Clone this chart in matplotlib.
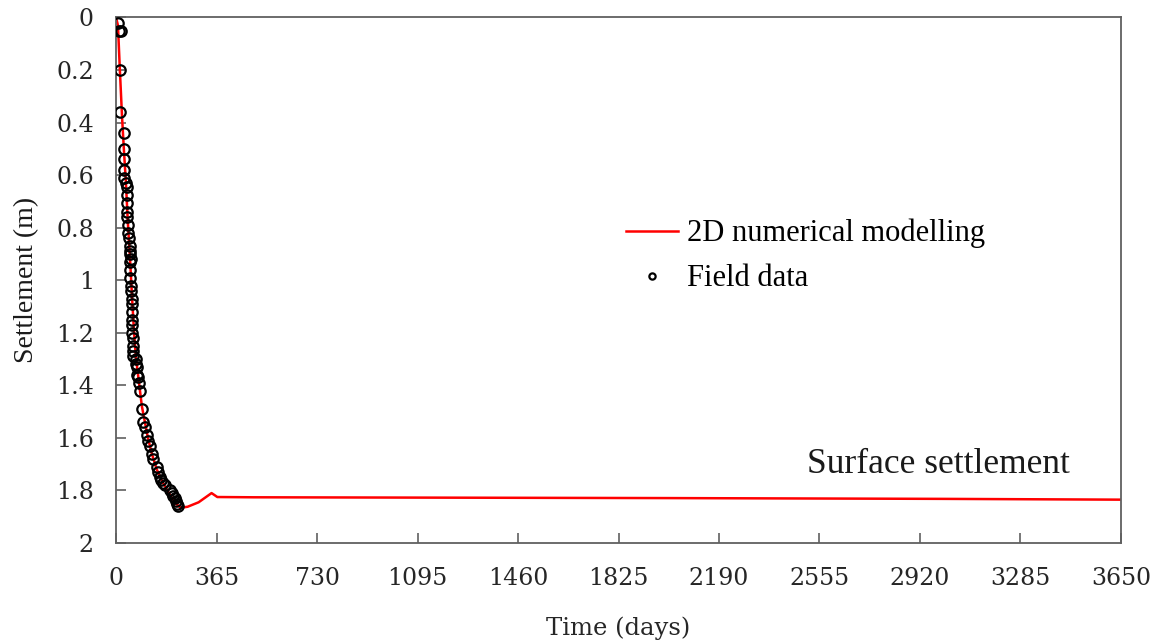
import numpy as np
import matplotlib.pyplot as plt
from matplotlib.ticker import FuncFormatter

# Field data (days, settlement in m)
field_days = [7, 11, 18, 14, 14, 29, 29, 29, 29, 29, 36, 40, 40, 40, 40, 40,
              43, 45, 47, 49, 51, 54, 51, 51, 51, 52, 53, 54, 58, 58, 58, 58,
              58, 58, 61, 61, 62, 63, 72, 74, 76, 78, 80, 84, 87, 94, 98, 105,
              112, 116, 123, 130, 134, 148, 152, 159, 165, 170, 177, 195, 202,
              206, 213, 217, 220, 224]
field_settle = [0.02, 0.05, 0.05, 0.20, 0.36, 0.44, 0.50, 0.54, 0.58, 0.61,
                0.63, 0.645, 0.675, 0.705, 0.74, 0.76, 0.79, 0.82, 0.84, 0.87,
                0.89, 0.92, 0.90, 0.93, 0.96, 0.99, 1.02, 1.04, 1.07, 1.09,
                1.12, 1.15, 1.17, 1.20, 1.22, 1.25, 1.27, 1.29, 1.30, 1.32,
                1.33, 1.36, 1.37, 1.39, 1.42, 1.49, 1.54, 1.56, 1.59, 1.61,
                1.63, 1.66, 1.68, 1.71, 1.73, 1.75, 1.76, 1.77, 1.78, 1.80,
                1.81, 1.82, 1.83, 1.84, 1.85, 1.86]

# 2D numerical model curve
model_days = [0, 7, 14, 22, 29, 36, 43, 51, 58, 65, 72, 80, 87, 94, 105, 116,
              130, 148, 170, 195, 217, 235, 260, 300, 347, 368, 500, 1000,
              2000, 3000, 3650]
model_settle = [0.0, 0.03, 0.2, 0.38, 0.51, 0.63, 0.78, 0.92, 1.06, 1.19, 1.29,
                1.36, 1.42, 1.48, 1.54, 1.60, 1.66, 1.72, 1.77, 1.815, 1.85,
                1.866, 1.862, 1.845, 1.81, 1.825, 1.826, 1.827, 1.829, 1.832,
                1.835]

x_ticks = [0, 365, 730, 1095, 1460, 1825, 2190, 2555, 2920, 3285, 3650]
y_ticks = [0, 0.2, 0.4, 0.6, 0.8, 1.0, 1.2, 1.4, 1.6, 1.8, 2.0]

serif = ["Liberation Serif", "DejaVu Serif"]
tick_font = "DejaVu Serif"

fig = plt.figure(figsize=(11.59, 6.43), dpi=100)
ax = fig.add_axes([0.1001, 0.1555, 0.8671, 0.8173])

ax.plot(model_days, model_settle, color="red", lw=1.8,
        label="2D numerical modelling", zorder=2)
ax.plot(field_days, field_settle, ls="none", marker="o", ms=7.5,
        mfc="none", mec="black", mew=1.6, label="Field data", zorder=3)

ax.set_xlim(0, 3650)
ax.set_ylim(2, 0)
ax.set_xticks(x_ticks)
ax.set_yticks(y_ticks)
ax.yaxis.set_major_formatter(FuncFormatter(lambda v, p: f"{v:g}"))

for s in ax.spines.values():
    s.set_color("#606060")
    s.set_linewidth(1.3)
ax.tick_params(direction="in", length=7, width=1.2, color="#606060",
               labelcolor="#262626")
ax.tick_params(axis="x", pad=17)
ax.tick_params(axis="y", pad=16)
for lab in ax.get_xticklabels() + ax.get_yticklabels():
    lab.set_family(tick_font)
    lab.set_fontsize(17)

ax.set_xlabel("Time (days)", family=tick_font, fontsize=17.5, color="#262626",
              labelpad=19)
ax.set_ylabel("Settlement (m)", family=serif, fontsize=20, color="#1a1a1a",
              labelpad=12)

ax.legend(loc="upper left", bbox_to_anchor=(0.495, 0.640), frameon=False,
          prop={"family": serif, "size": 22}, handlelength=1.7,
          handletextpad=0.3, labelspacing=0.52, borderaxespad=0,
          markerscale=0.6)

ax.text(0.688, 0.150, "Surface settlement", transform=ax.transAxes,
        family=serif, fontsize=25.5, color="#1a1a1a", va="center")

plt.savefig("out.png", dpi=100)
